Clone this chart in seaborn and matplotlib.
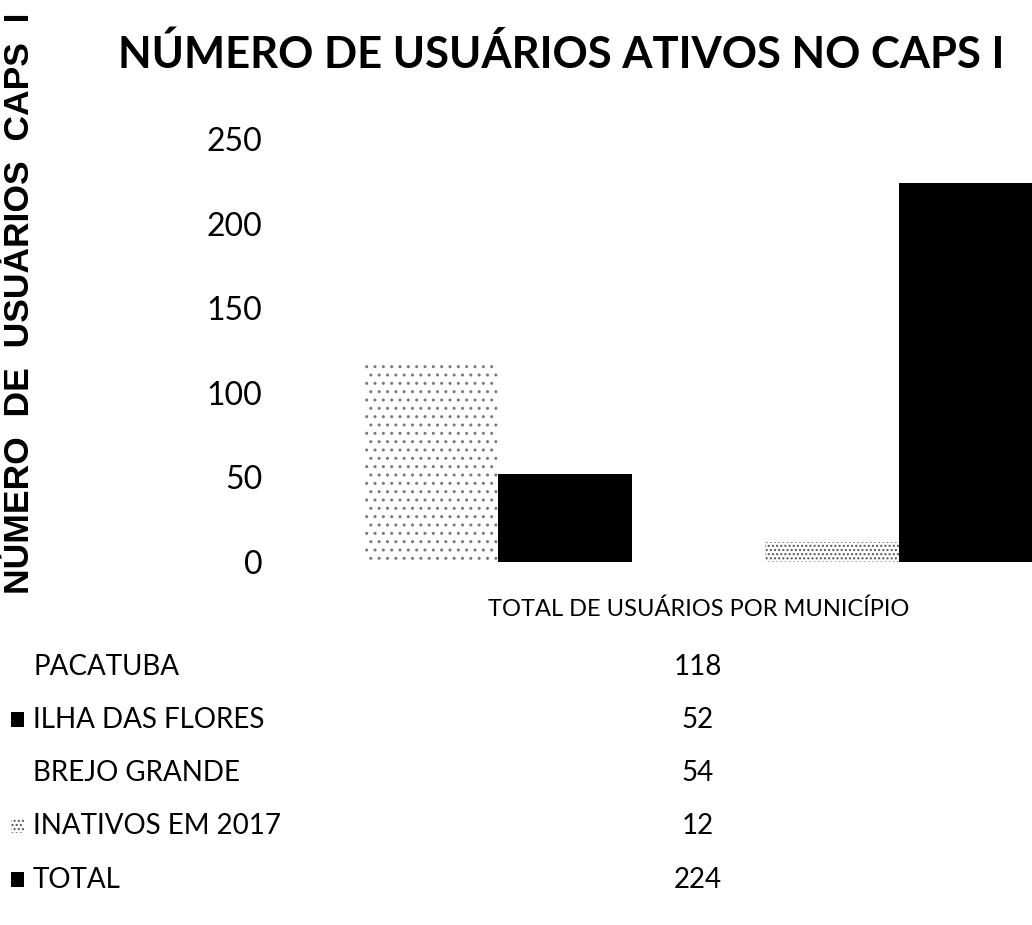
import matplotlib
matplotlib.use('Agg')
import matplotlib.pyplot as plt
from matplotlib.patches import Rectangle
import seaborn as sns

# Dados
titulo = 'NÚMERO DE USUÁRIOS ATIVOS NO CAPS I'
rotulo_y = 'NÚMERO  DE  USUÁRIOS  CAPS  I'
categoria = 'TOTAL DE USUÁRIOS POR MUNICÍPIO'
municipios = ['PACATUBA', 'ILHA DAS FLORES', 'BREJO GRANDE', 'INATIVOS EM 2017', 'TOTAL']
usuarios = [118, 52, 54, 12, 224]
yticks = [0, 50, 100, 150, 200, 250]

# Estilo de cada série (cor, hachura)
cores = ['white', 'black', 'white', 'white', 'black']
hachuras = ['..', '', '', '....', '']
cor_hachura = ['#7a7a7a', 'black', 'white', '#555555', 'black']

sns.set_style('white')
fonte = ['Lato', 'DejaVu Sans']
plt.rcParams['text.color'] = 'black'
plt.rcParams['xtick.color'] = 'black'
plt.rcParams['ytick.color'] = 'black'

fig = plt.figure(figsize=(10.32, 9.25), dpi=100)
ax = fig.add_axes([0.2907, 0.3924, 0.7093, 0.4573])
renderer = fig.canvas.get_renderer()


def ajusta_largura(t, largura_px, eixo='width'):
    # reduz/aumenta a fonte para o texto ocupar o tamanho desejado
    bb = t.get_window_extent(renderer)
    atual = bb.width if eixo == 'width' else bb.height
    t.set_fontsize(t.get_fontsize() * largura_px / atual)


sns.barplot(x=[categoria] * len(usuarios), y=usuarios, hue=municipios,
            palette=cores, width=1.0, saturation=1, legend=False, ax=ax)

for p, h, hc in zip(ax.patches, hachuras, cor_hachura):
    p.set_hatch(h)
    p.set_edgecolor(hc)
    p.set_linewidth(0)

ax.set_xlim(-0.5975, 0.5)
ax.set_ylim(0, 250)
ax.set_yticks(yticks)
ax.set_yticklabels([str(v) for v in yticks], family=fonte, fontsize=23)
ax.tick_params(axis='y', length=0, pad=27)
ax.tick_params(axis='x', length=0, pad=26)
for lab in ax.get_xticklabels():
    lab.set_family(fonte)
    lab.set_fontsize(20)
    ajusta_largura(lab, 421)
ax.set_ylabel('')
sns.despine(ax=ax, left=True, bottom=True)

# Titulo e rotulo do eixo y
t = fig.text(561 / 1032, 1 - 68 / 925, titulo, ha='center', va='baseline',
             family=fonte, fontweight='bold', fontsize=40)
ajusta_largura(t, 887)
ty = fig.text(0.019, 1 - 303 / 925, rotulo_y, rotation=90, ha='center', va='center',
              family=['Liberation Sans', 'DejaVu Sans'], fontweight='bold', fontsize=22)
ajusta_largura(ty, 580, eixo='height')

# Tabela de dados com marcadores de legenda
linhas_y = [667, 720, 773, 826, 880]
x_val = 698 / 1032
for nome, val, y, c, h, hc in zip(municipios, usuarios, linhas_y, cores, hachuras, cor_hachura):
    yf = 1 - y / 925
    fig.text(33 / 1032, yf, nome, ha='left', va='center', family=fonte, fontsize=20)
    fig.text(x_val, yf, str(val), ha='center', va='center', family=fonte, fontsize=20)
    if nome != 'PACATUBA':
        fig.patches.append(Rectangle((11 / 1032, yf - 7 / 925), 13 / 1032, 15 / 925,
                                     transform=fig.transFigure, facecolor=c, hatch=h,
                                     edgecolor=hc, linewidth=0))

fig.savefig('out.png', dpi=100)
